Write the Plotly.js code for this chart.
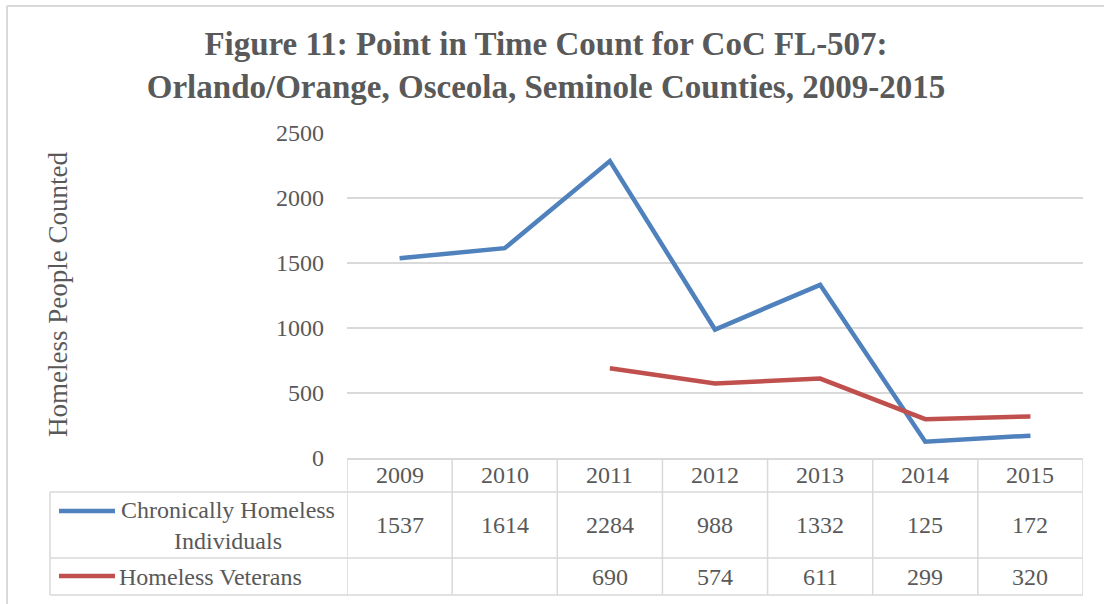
<!DOCTYPE html>
<html>
<head>
<meta charset="utf-8">
<script src="https://cdn.plot.ly/plotly-3.0.1.min.js"></script>
<style>html,body{margin:0;padding:0;background:#fff;}#chart{width:1104px;height:604px;}</style>
</head>
<body>
<div id="chart"></div>
<script>
// ---- data ----
var years = ['2009', '2010', '2011', '2012', '2013', '2014', '2015'];
var chronicName = 'Chronically Homeless Individuals';
var chronicLabel = 'Chronically Homeless<br>Individuals';
var chronic = [1537, 1614, 2284, 988, 1332, 125, 172];
var veteransName = 'Homeless Veterans';
var veterans = [null, null, 690, 574, 611, 299, 320];

// ---- layout helpers (pixel geometry) ----
var W = 1104, H = 604;
var L = 347, R = 1083, T = 133, B = 458;
function px(x) { return (x - L) / (R - L); }
function py(y) { return (B - y) / (B - T); }

var grey = '#595959';
var lineGrey = '#d9d9d9';
var serif = 'Liberation Serif, Times New Roman, serif';
var blue = '#4F81BD', red = '#C0504D';

var traces = [
  {x: years, y: chronic, name: chronicName, type: 'scatter', mode: 'lines',
   line: {color: blue, width: 4.5}, connectgaps: false, hoverinfo: 'x+y'},
  {x: years, y: veterans, name: veteransName, type: 'scatter', mode: 'lines',
   line: {color: red, width: 4.5}, connectgaps: false, hoverinfo: 'x+y'}
];

var rowHeadTop = 458, row1Top = 492, row2Top = 558, tableBottom = 595, tableLeft = 50;
var shapes = [];
function hline(y, x0, x1) {
  shapes.push({type: 'line', xref: 'paper', yref: 'paper', x0: px(x0), x1: px(x1), y0: py(y), y1: py(y),
    line: {color: lineGrey, width: 1.5}});
}
hline(row1Top, tableLeft, R);
hline(row2Top, tableLeft, R);
hline(tableBottom, tableLeft, R);
shapes.push({type: 'line', xref: 'paper', yref: 'paper', x0: px(tableLeft), x1: px(tableLeft), y0: py(row1Top), y1: py(tableBottom),
  line: {color: lineGrey, width: 1.5}});
for (var i = 0; i <= years.length; i++) {
  shapes.push({type: 'line', xref: 'x', yref: 'paper', x0: i - 0.5, x1: i - 0.5, y0: py(rowHeadTop), y1: py(tableBottom),
    line: {color: lineGrey, width: 1.5}});
}
// legend keys inside table
shapes.push({type: 'line', xref: 'paper', yref: 'paper', x0: px(59), x1: px(115), y0: py(511), y1: py(511),
  line: {color: blue, width: 4.5}});
shapes.push({type: 'line', xref: 'paper', yref: 'paper', x0: px(59), x1: px(115), y0: py(576), y1: py(576),
  line: {color: red, width: 4.5}});
// outer chart border (cropped)
shapes.push({type: 'line', xref: 'paper', yref: 'paper', x0: px(7), x1: px(7), y0: py(6), y1: py(H + 5),
  line: {color: lineGrey, width: 2}});
shapes.push({type: 'line', xref: 'paper', yref: 'paper', x0: px(7), x1: px(W + 5), y0: py(6), y1: py(6),
  line: {color: lineGrey, width: 2}});

var annotations = [];
var cellFont = {family: serif, size: 24, color: grey};
years.forEach(function (yr, i) {
  annotations.push({xref: 'x', yref: 'paper', x: i, y: py(475), text: yr, showarrow: false,
    font: cellFont, xanchor: 'center', yanchor: 'middle'});
  annotations.push({xref: 'x', yref: 'paper', x: i, y: py(525), text: String(chronic[i]), showarrow: false,
    font: cellFont, xanchor: 'center', yanchor: 'middle'});
  if (veterans[i] !== null) {
    annotations.push({xref: 'x', yref: 'paper', x: i, y: py(577), text: String(veterans[i]), showarrow: false,
      font: cellFont, xanchor: 'center', yanchor: 'middle'});
  }
});
annotations.push({xref: 'paper', yref: 'paper', x: px(228), y: py(525), text: chronicLabel, showarrow: false,
  font: cellFont, xanchor: 'center', yanchor: 'middle', align: 'center'});
annotations.push({xref: 'paper', yref: 'paper', x: px(117), y: py(577), text: veteransName, showarrow: false,
  font: cellFont, xanchor: 'left', yanchor: 'middle'});
// y-axis title
annotations.push({xref: 'paper', yref: 'paper', x: px(58), y: py(295), text: 'Homeless People Counted', showarrow: false,
  textangle: -90, font: {family: serif, size: 27, color: grey}, xanchor: 'center', yanchor: 'middle'});

var layout = {
  width: W, height: H,
  margin: {l: L, r: W - R, t: T, b: H - B},
  paper_bgcolor: '#ffffff', plot_bgcolor: '#ffffff',
  showlegend: false,
  title: {
    text: 'Figure 11: Point in Time Count for CoC FL-507:<br>Orlando/Orange, Osceola, Seminole Counties, 2009-2015',
    font: {family: serif, size: 33, color: grey, weight: 'bold'},
    xref: 'container', yref: 'container', x: 546 / W, xanchor: 'center', y: 1 - 55 / H, yanchor: 'top'
  },
  xaxis: {type: 'category', range: [-0.5, years.length - 0.5], showgrid: false, showticklabels: false,
    ticks: '', showline: true, linecolor: lineGrey, linewidth: 1.5, zeroline: false, fixedrange: true},
  yaxis: {range: [0, 2500], dtick: 500, tick0: 0, showgrid: true, gridcolor: lineGrey, gridwidth: 1.5,
    zeroline: false, showline: false, ticks: '', ticklabelstandoff: 22,
    tickfont: {family: serif, size: 24, color: grey}, fixedrange: true},
  shapes: shapes,
  annotations: annotations
};

Plotly.newPlot('chart', traces, layout, {displayModeBar: false, staticPlot: true});
</script>
</body>
</html>
